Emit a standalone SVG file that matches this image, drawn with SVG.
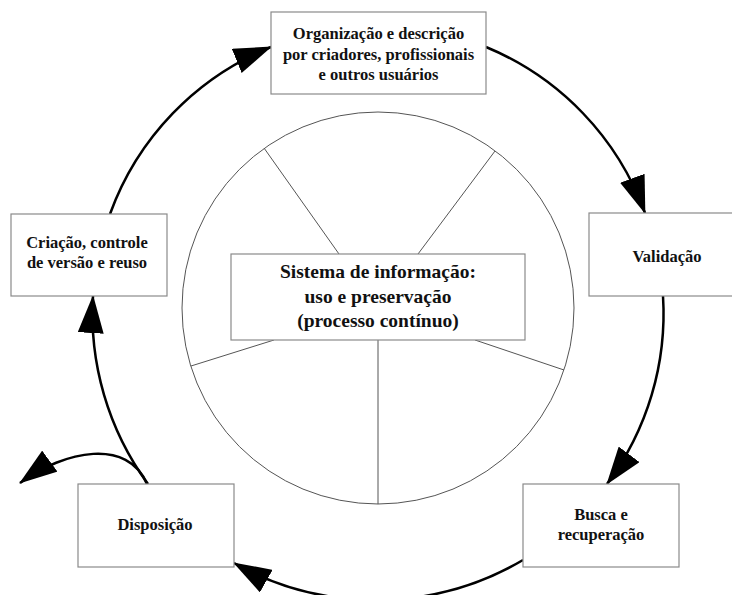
<svg xmlns="http://www.w3.org/2000/svg" width="732" height="595" viewBox="0 0 732 595">
<style>
.bg{fill:#ffffff}
.box{fill:#ffffff;stroke:#8a8a8a;stroke-width:1.2}
.thin{fill:none;stroke:#555555;stroke-width:1}
.conn{fill:none;stroke:#000000;stroke-width:2.5}
.lbl{font-weight:bold;fill:#111111;text-anchor:middle}
.t{font-size:16.5px}
.big{font-size:19.5px}
</style>
<defs>
<marker id="ah" markerUnits="userSpaceOnUse" markerWidth="38" markerHeight="26" viewBox="0 0 38 26" refX="37" refY="13" orient="auto">
<path d="M0,0 L38,13 L0,26 z" fill="#000000"/>
</marker>
</defs>
<rect class="bg" x="0" y="0" width="732" height="595"/>

<g id="center">
<circle class="thin" cx="378" cy="308" r="196"/>
<line class="thin" x1="264" y1="148" x2="339" y2="254"/>
<line class="thin" x1="495" y1="151" x2="418" y2="254"/>
<line class="thin" x1="274" y1="340" x2="191" y2="366"/>
<line class="thin" x1="475" y1="340" x2="564" y2="370"/>
<line class="thin" x1="378" y1="340" x2="378" y2="504"/>
<rect class="box" x="231" y="254" width="294" height="86"/>
<g font-family="Liberation Serif, DejaVu Serif, serif" class="lbl big">
<text x="378" y="278">Sistema de informação:</text>
<text x="378" y="303">uso e preservação</text>
<text x="378" y="327">(processo contínuo)</text>
</g>
</g>

<g id="connectors">
<path class="conn" d="M110,214 A285,285 0 0 1 271,47" marker-end="url(#ah)"/>
<path class="conn" d="M486,47 A285,285 0 0 1 645,213" marker-end="url(#ah)"/>
<path class="conn" d="M663,296 A285,285 0 0 1 607,484" marker-end="url(#ah)"/>
<path class="conn" d="M523,560 A290,290 0 0 1 234,563" marker-end="url(#ah)"/>
<path class="conn" d="M148,484 A288,288 0 0 1 93,296" marker-end="url(#ah)"/>
<path class="conn" d="M147,484 C128,438 65,450 20,483" marker-end="url(#ah)"/>
</g>

<g id="organizacao">
<rect class="box" x="271" y="12" width="215" height="82"/>
<g font-family="Liberation Serif, DejaVu Serif, serif" class="lbl t">
<text x="378.5" y="39">Organização e descrição</text>
<text x="378.5" y="60">por criadores, profissionais</text>
<text x="378.5" y="80">e outros usuários</text>
</g>
</g>

<g id="criacao">
<rect class="box" x="11" y="214" width="156" height="82"/>
<g font-family="Liberation Serif, DejaVu Serif, serif" class="lbl t">
<text x="87" y="248">Criação, controle</text>
<text x="87" y="268">de versão e reuso</text>
</g>
</g>

<g id="validacao">
<rect class="box" x="589" y="213" width="150" height="83"/>
<text font-family="Liberation Serif, DejaVu Serif, serif" class="lbl t" x="667" y="262">Validação</text>
</g>

<g id="busca">
<rect class="box" x="523" y="484" width="156" height="83"/>
<g font-family="Liberation Serif, DejaVu Serif, serif" class="lbl t">
<text x="601" y="520">Busca e</text>
<text x="601" y="540">recuperação</text>
</g>
</g>

<g id="disposicao">
<rect class="box" x="78" y="484" width="156" height="83"/>
<text font-family="Liberation Serif, DejaVu Serif, serif" class="lbl t" x="155" y="530">Disposição</text>
</g>
</svg>
